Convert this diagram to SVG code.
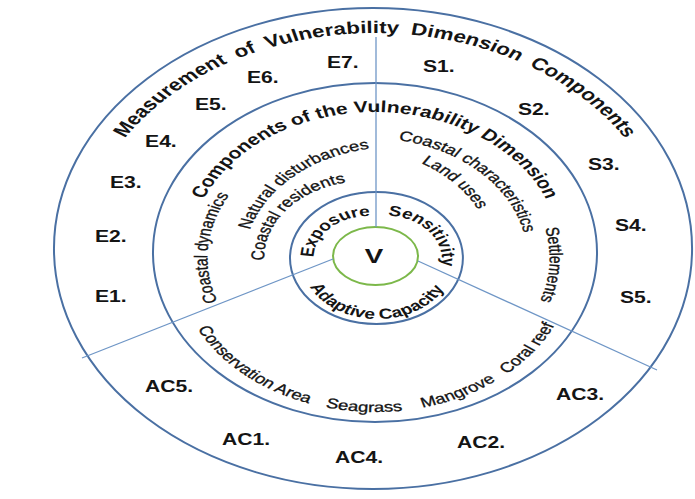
<svg xmlns="http://www.w3.org/2000/svg" width="695" height="499" viewBox="0 0 695 499">
<style>
.ring{fill:none;stroke:#4a70a3;stroke-width:2;vector-effect:non-scaling-stroke}
.core{fill:none;stroke:#7cb84a;stroke-width:2;vector-effect:non-scaling-stroke}
.div{stroke:#6f96c6;stroke-width:1.3;fill:none}
text{font-family:"Liberation Sans",Arial,sans-serif;fill:#141414}
.lab{font-size:16px;font-weight:bold}
.ttl{font-weight:bold}
.cmp{font-size:14px;stroke:#141414;stroke-width:0.3}
.dim{font-size:14.5px;font-weight:bold}
</style>
<defs>
<path id="pOuter" d="M -223,4 A 223 223 0 0 1 223,4"/>
<path id="pMid" d="M -140,0 A 140 140 0 0 1 140,0"/>
<path id="pDyn" d="M -9.5,133.6 A 128 128 0 0 1 11.5,-121.6"/>
<path id="pNat" d="M -72.2,81.3 A 113 113 0 0 1 96.2,-69.3"/>
<path id="pRes" d="M -54.9,66.3 A 77 77 0 0 1 40.9,-54.3"/>
<path id="pChar" d="M -90.5,-77.7 A 120 120 0 0 1 81.5,89.7"/>
<path id="pLand" d="M -95.6,-74.5 A 110 110 0 0 1 54.4,86.5"/>
<path id="pSet" d="M 7.8,-127.8 A 134 134 0 0 1 -5.8,139.8"/>
<path id="pExp" d="M -34.7,35.2 A 42 42 0 0 1 25.7,-23.2"/>
<path id="pSen" d="M -19.2,-28.2 A 44 44 0 0 1 36,40.2"/>
<path id="pAdp" d="M -55,9 A 57 57 0 0 0 59,11"/>
<path id="pBot" d="M -150,10 A 150 150 0 0 0 150,10"/>
</defs>
<rect width="695" height="499" fill="#ffffff"/>
<g transform="translate(375,252) scale(1.32,1)">
<g id="ring-outer">
<ellipse class="ring" cx="-1.5" cy="-3.5" rx="241.7" ry="240.5"/>
</g>
<g id="ring-middle">
<ellipse class="ring" cx="0" cy="0.5" rx="168.2" ry="169.5"/>
</g>
<g id="ring-inner">
<ellipse class="ring" cx="1.1" cy="6" rx="65.5" ry="66"/>
</g>
<g id="core">
<ellipse class="core" cx="0.4" cy="4" rx="32.2" ry="29"/>
</g>
</g>
<g id="connectors">
<line class="div" x1="376" y1="37" x2="376" y2="227"/>
<line class="div" x1="333" y1="259" x2="82" y2="358"/>
<line class="div" x1="418" y1="261" x2="657" y2="370"/>
</g>
<g transform="translate(375,252) scale(1.32,1)">
<g id="outer-title">
<text class="ttl" font-size="17" word-spacing="4"><textPath href="#pOuter" startOffset="50%" text-anchor="middle">Measurement of Vulnerability Dimension Components</textPath></text>
</g>
<g id="middle-title">
<text class="ttl" font-size="16"><textPath href="#pMid" startOffset="50%" text-anchor="middle">Components of the Vulnerability Dimension</textPath></text>
</g>
<g id="exposure-components">
<text class="cmp" font-size="14.5"><textPath href="#pDyn" startOffset="50%" text-anchor="middle">Coastal dynamics</textPath></text>
<text class="cmp" font-size="15"><textPath href="#pNat" startOffset="50%" text-anchor="middle">Natural disturbances</textPath></text>
<text class="cmp" font-size="14.5"><textPath href="#pRes" startOffset="50%" text-anchor="middle">Coastal residents</textPath></text>
</g>
<g id="sensitivity-components">
<text class="cmp"><textPath href="#pChar" startOffset="50%" text-anchor="middle">Coastal characteristics</textPath></text>
<text class="cmp"><textPath href="#pLand" startOffset="50%" text-anchor="middle">Land uses</textPath></text>
<text class="cmp"><textPath href="#pSet" startOffset="50%" text-anchor="middle">Settlements</textPath></text>
</g>
<g id="adaptive-components">
<text class="cmp" font-size="13.5"><textPath href="#pBot" startOffset="126.7" text-anchor="middle">Conservation Area</textPath></text>
<text class="cmp" font-size="13.5"><textPath href="#pBot" startOffset="227" text-anchor="middle">Seagrass</textPath></text>
<text class="cmp" font-size="13.5"><textPath href="#pBot" startOffset="303" text-anchor="middle">Mangrove</textPath></text>
<text class="cmp" font-size="13.5"><textPath href="#pBot" startOffset="375" text-anchor="middle">Coral reef</textPath></text>
</g>
<g id="dimensions">
<text class="dim"><textPath href="#pExp" startOffset="50%" text-anchor="middle">Exposure</textPath></text>
<text class="dim"><textPath href="#pSen" startOffset="50%" text-anchor="middle">Sensitivity</textPath></text>
<text class="dim" font-size="15.5"><textPath href="#pAdp" startOffset="50%" text-anchor="middle">Adaptive Capacity</textPath></text>
</g>
<g id="node-V">
<text x="-0.8" y="11" font-size="21" font-weight="bold" text-anchor="middle">V</text>
</g>
<g id="labels-E">
<text class="lab" x="-36.4" y="-184">E7.</text>
<text class="lab" x="-97" y="-169">E6.</text>
<text class="lab" x="-136.4" y="-142">E5.</text>
<text class="lab" x="-174.2" y="-105">E4.</text>
<text class="lab" x="-200.8" y="-64">E3.</text>
<text class="lab" x="-212.1" y="-10">E2.</text>
<text class="lab" x="-212.1" y="50">E1.</text>
</g>
<g id="labels-S">
<text class="lab" x="36.4" y="-180">S1.</text>
<text class="lab" x="108.3" y="-137">S2.</text>
<text class="lab" x="161.4" y="-82">S3.</text>
<text class="lab" x="181.8" y="-21">S4.</text>
<text class="lab" x="185.6" y="51">S5.</text>
</g>
<g id="labels-AC">
<text class="lab" x="-174.2" y="140">AC5.</text>
<text class="lab" x="-115.9" y="193">AC1.</text>
<text class="lab" x="-30.3" y="211">AC4.</text>
<text class="lab" x="62.1" y="196">AC2.</text>
<text class="lab" x="137.1" y="148">AC3.</text>
</g>
</g>
</svg>
